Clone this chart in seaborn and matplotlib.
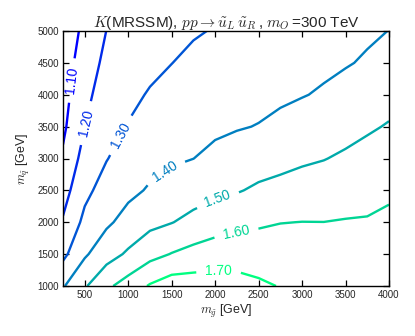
import numpy as np
import seaborn as sns
import matplotlib
matplotlib.use("Agg")
import matplotlib.pyplot as plt

# gluino masses (x) and squark masses (y) of the grid, in GeV
m_gluino = [250, 500, 750, 1000, 1250, 1500, 1750, 2000,
            2250, 2500, 2750, 3000, 3250, 3500, 3750, 4000]
m_squark = [1000, 1500, 2000, 2500, 3000, 3500, 4000, 4500, 5000]

# K-factor, one row per squark mass
k_1000 = [1.391, 1.489, 1.581, 1.642, 1.709, 1.752, 1.750, 1.745,
          1.737, 1.716, 1.696, 1.680, 1.665, 1.655, 1.650, 1.652]
k_1500 = [1.276, 1.387, 1.460, 1.514, 1.568, 1.604, 1.631, 1.650,
          1.655, 1.652, 1.648, 1.640, 1.632, 1.627, 1.625, 1.640]
k_2000 = [1.210, 1.324, 1.384, 1.433, 1.475, 1.497, 1.527, 1.555,
          1.573, 1.587, 1.598, 1.601, 1.6005, 1.605, 1.607, 1.621]
k_2500 = [1.161, 1.276, 1.339, 1.379, 1.409, 1.436, 1.458, 1.477,
          1.493, 1.515, 1.528, 1.541, 1.548, 1.559, 1.569, 1.583]
k_3000 = [1.114, 1.237, 1.296, 1.342, 1.373, 1.388, 1.3995, 1.422,
          1.440, 1.457, 1.471, 1.486, 1.497, 1.513, 1.529, 1.545]
k_3500 = [1.082, 1.199, 1.272, 1.305, 1.341, 1.358, 1.373, 1.384,
          1.394, 1.403, 1.420, 1.439, 1.453, 1.470, 1.489, 1.506]
k_4000 = [1.065, 1.174, 1.248, 1.276, 1.308, 1.328, 1.346, 1.358,
          1.368, 1.377, 1.386, 1.396, 1.409, 1.429, 1.449, 1.471]
k_4500 = [1.052, 1.148, 1.224, 1.249, 1.276, 1.299, 1.319, 1.331,
          1.343, 1.353, 1.363, 1.374, 1.384, 1.394, 1.409, 1.435]
k_5000 = [1.040, 1.122, 1.201, 1.222, 1.245, 1.265, 1.292, 1.305,
          1.317, 1.329, 1.340, 1.352, 1.364, 1.376, 1.388, 1.401]

levels = [1.10, 1.20, 1.30, 1.40, 1.50, 1.60, 1.70]
# rough spots where the inline labels sit
label_spots = [(370, 4220), (515, 3555), (912, 3366), (1437, 2774),
               (2030, 2356), (2237, 1883), (2041, 1252)]

sns.set_style("white")
plt.rcParams['font.family'] = ['Liberation Sans', 'DejaVu Sans']
plt.rcParams['mathtext.fontset'] = 'cm'

Z = np.array([k_1000, k_1500, k_2000, k_2500, k_3000,
              k_3500, k_4000, k_4500, k_5000])
X, Y = np.meshgrid(m_gluino, m_squark)

fig = plt.figure(figsize=(4.15, 3.36), dpi=100)
ax = fig.add_axes([63 / 415, 50 / 336, 326 / 415, 255 / 336])

cs = ax.contour(X, Y, Z, levels=levels, cmap='winter', linewidths=1.7)
ax.clabel(cs, fmt='%.2f', fontsize=10, manual=label_spots, inline_spacing=9)

ax.set_xlim(250, 4000)
ax.set_ylim(1000, 5000)
ax.set_xticks(np.arange(500, 4001, 500))
ax.set_yticks(np.arange(1000, 5001, 500))
# inward ticks on all four sides, like the old matplotlib look
ax.tick_params(which='major', direction='in', bottom=True, left=True,
               top=True, right=True, labelsize=7, length=4, width=0.9,
               color='black', pad=3)
for s in ax.spines.values():
    s.set_color('black')
    s.set_linewidth(1.0)

ax.set_xlabel(r'$m_{\tilde{g}}$ [GeV]', fontsize=9, labelpad=2)
ax.set_ylabel(r'$m_{\tilde{q}}$ [GeV]', fontsize=9, labelpad=4)
ax.set_title(r'$K$(MRSSM), $pp \rightarrow \tilde{u}_L\,\tilde{u}_R\,$, $m_O\,$=300 TeV',
             fontsize=11, pad=3)

fig.savefig('out.png', dpi=100)
